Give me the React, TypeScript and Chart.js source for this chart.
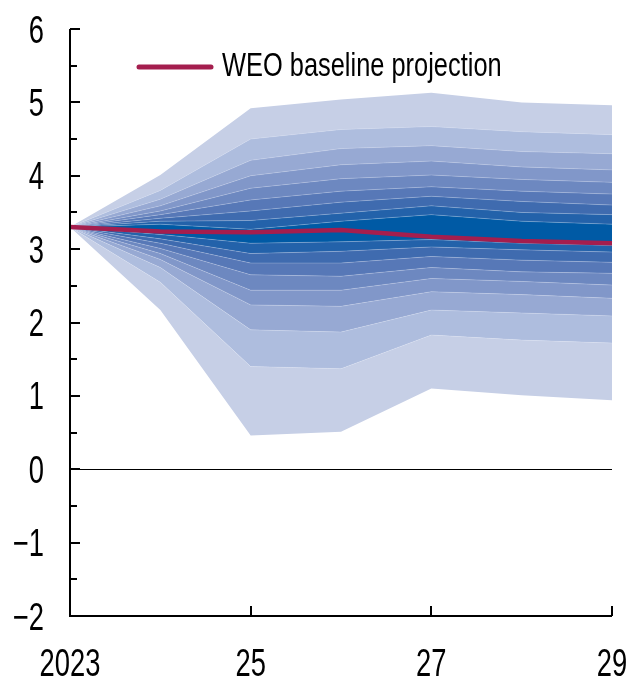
import React, { useEffect, useRef } from "react";
import { Chart, registerables } from "chart.js";

Chart.register(...registerables);

const years = ["2023", "2024", "2025", "2026", "2027", "2028", "2029"];
const xTickLabels: Record<number, string> = { 0: "2023", 2: "25", 4: "27", 6: "29" };
const yTickValues = [-2, -1, 0, 1, 2, 3, 4, 5, 6];
const legendLabel = "WEO baseline projection";

// Fan chart percentile boundaries (outer lower -> outer upper)
const p5 = [3.3, 2.17, 0.46, 0.51, 1.1, 1.01, 0.94];
const p10 = [3.3, 2.55, 1.4, 1.37, 1.83, 1.76, 1.72];
const p15 = [3.3, 2.75, 1.9, 1.87, 2.17, 2.13, 2.09];
const p20 = [3.3, 2.86, 2.24, 2.22, 2.42, 2.38, 2.33];
const p25 = [3.3, 2.94, 2.44, 2.44, 2.6, 2.56, 2.51];
const p30 = [3.3, 3.01, 2.65, 2.63, 2.75, 2.69, 2.67];
const p35 = [3.3, 3.08, 2.81, 2.81, 2.9, 2.85, 2.82];
const p40 = [3.3, 3.14, 2.94, 2.97, 3.03, 2.99, 2.96];
const p45 = [3.3, 3.2, 3.08, 3.1, 3.13, 3.08, 3.05];
const p55 = [3.3, 3.34, 3.27, 3.38, 3.47, 3.38, 3.34];
const p60 = [3.3, 3.38, 3.39, 3.49, 3.59, 3.5, 3.47];
const p65 = [3.3, 3.42, 3.52, 3.64, 3.72, 3.65, 3.6];
const p70 = [3.3, 3.47, 3.67, 3.79, 3.85, 3.79, 3.75];
const p75 = [3.3, 3.52, 3.83, 3.96, 4.01, 3.95, 3.91];
const p80 = [3.3, 3.59, 4.0, 4.15, 4.2, 4.12, 4.08];
const p85 = [3.3, 3.68, 4.21, 4.37, 4.41, 4.33, 4.3];
const p90 = [3.3, 3.8, 4.5, 4.63, 4.67, 4.6, 4.56];
const p95 = [3.3, 4.01, 4.92, 5.04, 5.13, 5.0, 4.96];

const weoBaseline = [3.3, 3.24, 3.23, 3.26, 3.17, 3.11, 3.08];

const boundaries = [p5, p10, p15, p20, p25, p30, p35, p40, p45, p55, p60, p65, p70, p75, p80, p85, p90, p95];

// shades from outermost band to centre band
const shades = [
  "rgb(198,207,230)",
  "rgb(174,189,222)",
  "rgb(151,169,211)",
  "rgb(129,151,201)",
  "rgb(109,136,192)",
  "rgb(87,120,183)",
  "rgb(63,107,175)",
  "rgb(35,98,170)",
  "rgb(0,90,165)",
];

const RED = "rgb(164,30,78)";
const FONT = "'Liberation Sans', Arial, sans-serif";

function narrowText(ctx: any, text: string, x: number, y: number, align: string, size: number, sx: number) {
  ctx.save();
  ctx.translate(x, y);
  ctx.scale(sx, 1);
  ctx.font = `${size}px ${FONT}`;
  ctx.textAlign = align;
  ctx.textBaseline = "alphabetic";
  ctx.fillStyle = "#000";
  ctx.fillText(text, 0, 0);
  ctx.restore();
}

const axesPlugin = {
  id: "customAxes",
  afterDatasetsDraw(chart: any) {
    const { ctx, chartArea } = chart;
    const xs = chart.scales.x;
    const ys = chart.scales.y;
    ctx.save();
    ctx.strokeStyle = "#000";
    // zero line
    ctx.lineWidth = 1;
    const y0 = Math.round(ys.getPixelForValue(0)) + 0.5;
    ctx.beginPath();
    ctx.moveTo(chartArea.left, y0);
    ctx.lineTo(chartArea.right, y0);
    ctx.stroke();
    // axes
    ctx.lineWidth = 2;
    ctx.beginPath();
    ctx.moveTo(chartArea.left, ys.getPixelForValue(6));
    ctx.lineTo(chartArea.left, ys.getPixelForValue(-2));
    ctx.lineTo(chartArea.right, ys.getPixelForValue(-2));
    ctx.stroke();
    // y ticks
    for (let k = -4; k <= 12; k++) {
      const v = k / 2;
      const py = Math.round(ys.getPixelForValue(v));
      const len = k % 2 === 0 ? 10 : 7;
      ctx.beginPath();
      ctx.moveTo(chartArea.left, py);
      ctx.lineTo(chartArea.left + len, py);
      ctx.stroke();
    }
    // x ticks
    [2, 4, 6].forEach((i) => {
      const px = Math.round(xs.getPixelForValue(i));
      const by = ys.getPixelForValue(-2);
      ctx.beginPath();
      ctx.moveTo(px, by);
      ctx.lineTo(px, by - 10);
      ctx.stroke();
    });
    ctx.restore();

    // tick labels
    yTickValues.forEach((v) => {
      const py = ys.getPixelForValue(v);
      const t = v < 0 ? "\u2212" + Math.abs(v) : String(v);
      narrowText(ctx, t, 44, py + 13.5, "right", 38, 0.72);
    });
    Object.keys(xTickLabels).forEach((k) => {
      const i = Number(k);
      const px = xs.getPixelForValue(i);
      narrowText(ctx, xTickLabels[i], px, 676, "center", 38, 0.72);
    });
  },
  afterDraw(chart: any) {
    const { ctx } = chart;
    ctx.save();
    ctx.strokeStyle = RED;
    ctx.lineWidth = 5;
    ctx.lineCap = "round";
    ctx.beginPath();
    ctx.moveTo(139, 67);
    ctx.lineTo(211, 67);
    ctx.stroke();
    ctx.restore();
    narrowText(ctx, legendLabel, 222, 76, "left", 33, 0.77);
  },
};

export default function App() {
  const ref = useRef<HTMLCanvasElement | null>(null);
  useEffect(() => {
    if (!ref.current) return;
    const datasets: any[] = boundaries.map((arr, i) => {
      let fill: any = false;
      let bg = "transparent";
      if (i > 0) {
        const band = i - 1; // 0..16
        const dist = Math.abs(band - 8);
        bg = shades[8 - dist];
        fill = "-1";
      }
      return {
        label: "b" + i,
        data: arr,
        borderColor: "rgba(235,240,250,0.3)",
        borderWidth: i === 0 || i === boundaries.length - 1 ? 0 : 0.8,
        backgroundColor: bg,
        fill,
        pointRadius: 0,
        tension: 0,
        order: 1,
      };
    });
    datasets.push({
      label: legendLabel,
      data: weoBaseline,
      borderColor: RED,
      borderWidth: 4.5,
      backgroundColor: RED,
      fill: false,
      pointRadius: 0,
      tension: 0,
      order: 0,
    });
    const chart = new Chart(ref.current, {
      type: "line",
      data: { labels: years, datasets },
      options: {
        animation: false,
        responsive: true,
        maintainAspectRatio: false,
        layout: { padding: { top: 29, right: 19, left: 0, bottom: 0 } },
        plugins: { legend: { display: false }, tooltip: { enabled: false } },
        scales: {
          x: {
            type: "category",
            offset: false,
            grid: { display: false, drawTicks: false },
            border: { display: false },
            ticks: { display: false },
            afterFit: (s: any) => {
              s.height = 65;
              s.paddingLeft = 0;
              s.paddingRight = 0;
            },
          },
          y: {
            min: -2,
            max: 6,
            grid: { display: false, drawTicks: false },
            border: { display: false },
            ticks: { display: false, stepSize: 1 },
            afterFit: (s: any) => {
              s.width = 70;
              s.paddingTop = 0;
              s.paddingBottom = 0;
            },
          },
        },
      },
      plugins: [axesPlugin],
    });
    return () => chart.destroy();
  }, []);
  return (
    <div style={{ position: "absolute", left: 0, top: 0, width: 631, height: 681, background: "#fff" }}>
      <canvas ref={ref} />
    </div>
  );
}
